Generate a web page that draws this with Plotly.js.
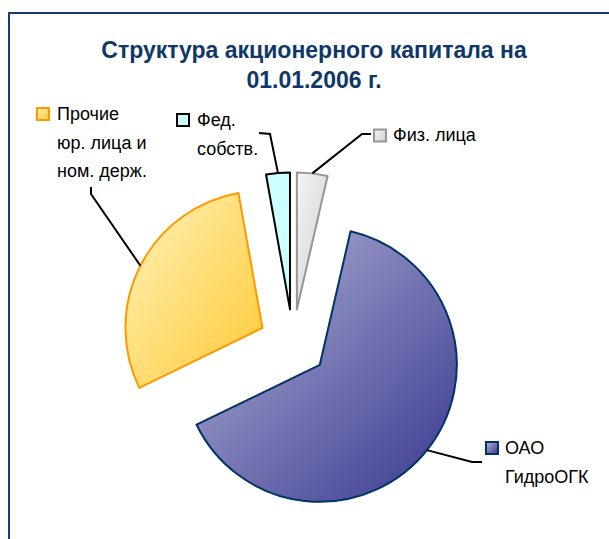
<!DOCTYPE html>
<html>
<head>
<meta charset="utf-8">
<script src="https://cdn.plot.ly/plotly-3.0.1.min.js"></script>
<style>
  html, body { margin: 0; padding: 0; background: #ffffff; }
  #chart { width: 609px; height: 539px; }
</style>
</head>
<body>
<div id="chart"></div>
<script>
// ---- data ----
const categories = ['Физ. лица', 'ОАО ГидроОГК', 'Прочие юр. лица и ном. держ.', 'Фед. собств.'];
const shares = [3.6, 64.2, 29.4, 2.8];
const labelLines = [
  ['Физ. лица'],
  ['ОАО', 'ГидроОГК'],
  ['Прочие', 'юр. лица и', 'ном. держ.'],
  ['Фед.', 'собств.']
];
const titleText = 'Структура акционерного капитала на<br>01.01.2006 г.';

// ---- styles / layout constants ----
const W = 609, H = 539;
const px = x => x / W;
const py = y => 1 - y / H;

const fillColors = ['#e2e2e2', '#7a7ab4', '#ffdd77', '#ccffff'];
const lineColors = ['#969696', '#003366', '#ff9900', '#000000'];
const gradStops = [
  ['#f4f4f4', '#cfcfcf'],
  ['#b6b6d8', '#37378f'],
  ['#fff2bb', '#ffc933'],
  ['#ccffff', '#ccffff']
];
const keyFills = ['#dcdcdc', '#9c9ccc', '#ffe08a', '#ccffff'];
const pull = 0.25;
const domX = [0.19992, 0.76232];
const domY = [0.04499, 0.68043];

// label block anchors (pixel): key square centre, text left, first line centre
const labelPos = [
  {key: [380, 135.5], tx: 391, ty: 135, elbow: [[362, 134], [371, 134]]},
  {key: [492, 448],  tx: 503, ty: 448, elbow: [[472, 462], [482, 462]]},
  {key: [43, 114],   tx: 55,  ty: 114, elbow: [[91, 194], [91, 187]]},
  {key: [183, 120],  tx: 195, ty: 120, elbow: [[270, 134], [259, 133]]}
];
const lineStep = 28.7;

// ---- pie geometry (same rule Plotly uses) ----
const boxW = W * (domX[1] - domX[0]);
const boxH = H * (domY[1] - domY[0]);
const r = Math.min(boxW, boxH) / 2 / (1 + pull);
const cx = W * (domX[0] + domX[1]) / 2;
const cy = H * (1 - domY[0]) - boxH / 2;
const total = shares.reduce((a, b) => a + b, 0);

const shapes = [];
const annotations = [];
const keyShapeIdx = [];

// chart frame
shapes.push({type: 'rect', xref: 'paper', yref: 'paper',
  x0: px(9), x1: px(616), y0: py(546), y1: py(13),
  line: {color: '#173e6b', width: 2}, fillcolor: 'rgba(0,0,0,0)', layer: 'below'});

let acc = 0;
shares.forEach((v, i) => {
  const mid = (acc + v / 2) / total * 2 * Math.PI;
  acc += v;
  const ax = cx + (1 + pull) * r * Math.sin(mid);
  const ay = cy - (1 + pull) * r * Math.cos(mid);
  const p = labelPos[i];
  const pts = [[ax, ay]].concat(p.elbow);
  const path = pts.map((q, k) => (k ? 'L' : 'M') + px(q[0]) + ',' + py(q[1])).join(' ');
  shapes.push({type: 'path', xref: 'paper', yref: 'paper', path: path,
    line: {color: '#000000', width: 2}});
  const s = 6;
  keyShapeIdx.push(shapes.length);
  shapes.push({type: 'rect', xref: 'paper', yref: 'paper',
    x0: px(p.key[0] - s), x1: px(p.key[0] + s), y0: py(p.key[1] + s), y1: py(p.key[1] - s),
    line: {color: lineColors[i], width: 2}, fillcolor: keyFills[i]});
  labelLines[i].forEach((t, k) => {
    annotations.push({xref: 'paper', yref: 'paper', x: px(p.tx), y: py(p.ty + k * lineStep),
      xanchor: 'left', yanchor: 'middle', showarrow: false, text: t,
      font: {family: 'Liberation Sans, Arial, sans-serif', size: 18, color: '#000000'}});
  });
});

const trace = {
  type: 'pie',
  labels: categories,
  values: shares,
  sort: false,
  direction: 'clockwise',
  rotation: 0,
  pull: pull,
  textinfo: 'none',
  hoverinfo: 'label+percent',
  showlegend: false,
  domain: {x: domX, y: domY},
  marker: {colors: fillColors, line: {color: lineColors, width: 2}}
};

const layout = {
  width: W, height: H,
  margin: {l: 0, r: 0, t: 0, b: 0},
  paper_bgcolor: '#ffffff',
  showlegend: false,
  title: {
    text: titleText,
    x: 314 / W, xanchor: 'center',
    y: 1 - 58 / H, yanchor: 'top', yref: 'container',
    font: {family: 'Liberation Sans, Arial, sans-serif', size: 23, color: '#0f3868', weight: 'bold'}
  },
  shapes: shapes,
  annotations: annotations
};

Plotly.newPlot('chart', [trace], layout, {displayModeBar: false, staticPlot: true}).then(gd => {
  const svg = gd.querySelector('svg.main-svg');
  const NS = 'http://www.w3.org/2000/svg';
  let defs = svg.querySelector('defs');
  if (!defs) { defs = document.createElementNS(NS, 'defs'); svg.insertBefore(defs, svg.firstChild); }
  gradStops.forEach((st, i) => {
    const g = document.createElementNS(NS, 'linearGradient');
    g.setAttribute('id', 'sliceGrad' + i);
    g.setAttribute('x1', '0'); g.setAttribute('y1', '0');
    g.setAttribute('x2', '1'); g.setAttribute('y2', '1');
    st.forEach((c, k) => {
      const s = document.createElementNS(NS, 'stop');
      s.setAttribute('offset', k ? '1' : '0');
      s.setAttribute('stop-color', c);
      g.appendChild(s);
    });
    defs.appendChild(g);
  });
  gd.querySelectorAll('g.slice path.surface').forEach((p, i) => {
    p.style.fill = 'url(#sliceGrad' + i + ')';
  });
  keyShapeIdx.forEach((si, i) => {
    gd.querySelectorAll('path[data-index="' + si + '"]').forEach(p => {
      p.style.fill = 'url(#sliceGrad' + i + ')';
      p.style.fillOpacity = '1';
    });
  });
});
</script>
</body>
</html>
